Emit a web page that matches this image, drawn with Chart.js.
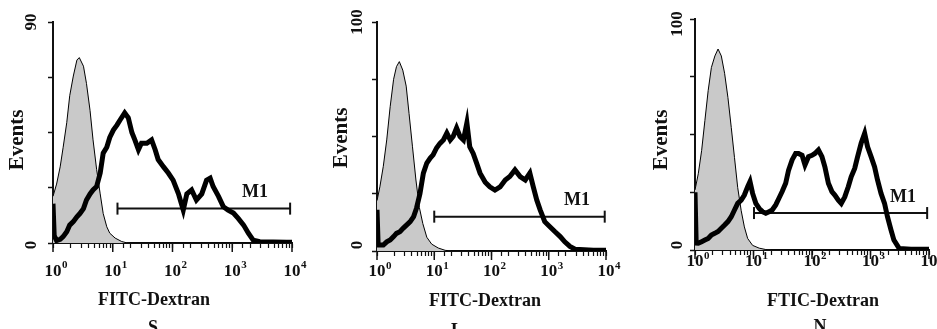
<!DOCTYPE html>
<html>
<head>
<meta charset="utf-8">
<script src="https://cdn.jsdelivr.net/npm/chart.js@4.4.0/dist/chart.umd.min.js"></script>
<style>
body{margin:0;background:#fff;width:937px;height:329px;overflow:hidden;position:relative}
canvas{position:absolute;top:0}
</style>
</head>
<body>
<canvas id="cS" width="320" height="329" style="left:0px"></canvas>
<canvas id="cL" width="315" height="329" style="left:320px"></canvas>
<canvas id="cN" width="302" height="329" style="left:635px"></canvas>
<script>
// x positions are read in decades (log10 of FITC intensity), y = events
const xDecades = [1, 10, 100, 1000, 10000];
const xExponents = ['0', '1', '2', '3', '4'];

// panel S
const sGreyPos = [0,0.06,0.12,0.17,0.23,0.28,0.34,0.40,0.44,0.51,0.56,0.62,0.67,0.73,0.79,0.84,0.90,0.95,1.04,1.15,1.23,1.3,4];
const sGreyVal = [19,24,31,39,49,60,68,74.5,75.5,72,65,54,42,30,20,12,6.6,4,2,0.6,0.1,0,0];
const sBlackPos = [0,0.02,0.06,0.12,0.17,0.23,0.28,0.34,0.40,0.45,0.51,0.56,0.62,0.67,0.73,0.79,0.84,0.90,0.95,1.01,1.07,1.12,1.20,1.26,1.32,1.37,1.43,1.48,1.57,1.65,1.71,1.76,1.85,1.93,2.01,2.10,2.18,2.24,2.32,2.40,2.49,2.57,2.63,2.68,2.77,2.85,2.93,3.02,3.10,3.19,3.27,3.35,3.46,3.91,4];
const sBlackVal = [16,3,1,1.5,2.6,4.6,7.3,8.7,10.7,12,14,17.5,20,21.6,23,28.5,36.6,39,43,46,48,50,53,51,45,42,38,40.6,40.6,42,38,34,31,28.5,25.6,20,13.4,20,21.6,17.5,20,25.6,26.4,23,19,14.8,13.4,12.2,10,7.3,4,1.2,0.5,0.3,0.3];

// panel L
const lGreyPos = [0,0.05,0.11,0.17,0.23,0.29,0.34,0.39,0.45,0.51,0.56,0.62,0.68,0.74,0.80,0.87,0.955,1.07,1.19,1.3,4];
const lGreyVal = [22,28,37,48.5,63,75,80.5,82.7,79,72,60,45.5,31,19,12,6,3,1.3,0.3,0,0];
const lBlackPos = [0,0.02,0.05,0.11,0.17,0.23,0.29,0.34,0.40,0.46,0.52,0.58,0.64,0.69,0.75,0.81,0.87,0.93,0.98,1.04,1.10,1.16,1.22,1.28,1.33,1.39,1.45,1.51,1.57,1.62,1.68,1.74,1.80,1.89,1.97,2.06,2.15,2.24,2.32,2.41,2.50,2.59,2.67,2.73,2.79,2.85,2.93,3.02,3.11,3.20,3.28,3.37,3.46,3.78,4];
const lBlackVal = [18,2.6,2.6,2.6,4,4.8,6.3,7.7,8.4,10,11.4,12.8,15,18.7,25,34,38.4,40.6,42,45,47,48.5,51.5,48.5,50,53.7,50,48.5,56,45.5,42.6,38.4,34,30,28,26.6,28,31,32.5,35.4,32.5,31,34,28,22.3,18,12.8,10.6,8.4,6.3,4,2,0.8,0.3,0.3];

// panel N
const nGreyPos = [0,0.056,0.113,0.169,0.225,0.28,0.34,0.394,0.45,0.506,0.563,0.62,0.675,0.73,0.79,0.844,0.90,0.985,1.097,1.21,1.3,4];
const nGreyVal = [26,33,43,56,69,79,84,87,84,76.5,66,53,40,27,17,10,5,2,0.8,0.2,0,0];
const nBlackPos = [0,0.02,0.056,0.113,0.169,0.225,0.28,0.338,0.394,0.45,0.506,0.563,0.62,0.675,0.73,0.79,0.844,0.90,0.94,0.985,1.04,1.097,1.153,1.21,1.266,1.32,1.38,1.435,1.49,1.55,1.60,1.66,1.72,1.77,1.83,1.88,1.94,2.0,2.05,2.11,2.17,2.22,2.28,2.34,2.39,2.45,2.50,2.56,2.62,2.67,2.73,2.78,2.84,2.90,2.95,3.01,3.07,3.12,3.18,3.24,3.29,3.35,3.40,3.49,3.69,4];
const nBlackVal = [25,3,2.9,3.6,4.3,5,6.5,7.2,8,9.4,10.8,12.3,14.4,17.3,20.2,21.6,23.8,27.4,29.6,24.5,20.2,18,16.6,15.9,16.6,17.3,19.5,22.4,25.3,28.9,34.6,39,41.8,41.8,41,36.8,40.4,41,41.8,43.3,40.4,36,28.9,25.3,23.8,21.6,20.2,23,27.4,31.7,35.3,40.4,46.2,50.5,44.7,40.4,36,30.3,24.5,20.2,14.4,8.7,4.3,0.7,0.3,0.3];

// M1 marker per panel: start, end, level, label position
const m1Start = [12, 10, 10.2];
const m1End = [9300, 9500, 9300];
const m1Level = [14, 15, 16];
const m1LabelAt = [2400, 3100, 3600];

const yMax = [90, 100, 100];
const xTitles = ['FITC-Dextran', 'FITC-Dextran', 'FTIC-Dextran'];
const panelNames = ['S', 'L', 'N'];

const SERIF = '"Liberation Serif", "Times New Roman", serif';

function toPoints(pos, val) {
    return pos.map((d, i) => ({x: Math.pow(10, d), y: val[i]}));
}

function rotText(ctx, txt, x, y) {
    ctx.save();
    ctx.translate(x, y);
    ctx.rotate(-Math.PI / 2);
    ctx.textAlign = 'center';
    ctx.textBaseline = 'middle';
    ctx.fillText(txt, 0, 0);
    ctx.restore();
}

const panelText = {
    id: 'panelText',
    afterDraw(chart) {
        const p = chart.options.plugins.panelText;
        const ctx = chart.ctx, xs = chart.scales.x, ys = chart.scales.y;
        ctx.save();
        ctx.fillStyle = '#111';
        ctx.strokeStyle = '#111';
        // decade ticks are longer
        ctx.lineWidth = 1.5;
        xDecades.forEach(v => {
            const px = xs.getPixelForValue(v);
            ctx.beginPath();
            ctx.moveTo(px, ys.bottom);
            ctx.lineTo(px, ys.bottom + 9);
            ctx.stroke();
        });
        // x tick labels 10^n
        xDecades.forEach((v, i) => {
            const px = xs.getPixelForValue(v);
            ctx.font = 'bold 17px ' + SERIF;
            ctx.textAlign = 'center';
            ctx.textBaseline = 'middle';
            ctx.fillText('10', px, p.tickY);
            const w = ctx.measureText('10').width;
            ctx.font = 'bold 11px ' + SERIF;
            ctx.textAlign = 'left';
            ctx.fillText(xExponents[i], px + w / 2 + 0.5, p.tickY - 6);
        });
        // y tick labels
        ctx.font = 'bold 17px ' + SERIF;
        rotText(ctx, '0', p.yLabX, ys.getPixelForValue(0) + p.zeroDy);
        rotText(ctx, String(p.max), p.yLabX, ys.getPixelForValue(p.max) + p.topDy);
        // axis titles
        ctx.font = 'bold 21px ' + SERIF;
        rotText(ctx, 'Events', p.evX, p.evY);
        ctx.font = 'bold 18px ' + SERIF;
        ctx.textAlign = 'center';
        ctx.textBaseline = 'middle';
        ctx.fillText(p.title, p.titleX, p.titleY);
        ctx.textBaseline = 'top';
        ctx.fillText(p.name, p.nameX, p.nameY);
        // M1 label
        ctx.font = 'bold 18px ' + SERIF;
        ctx.textBaseline = 'bottom';
        ctx.fillText('M1', xs.getPixelForValue(p.m1At), ys.getPixelForValue(p.m1Lv) - 7);
        ctx.restore();
    }
};

function makePanel(id, i, greyPos, greyVal, blackPos, blackVal, pad, txt) {
    const config = {
        type: 'line',
        data: {
            datasets: [
                {
                    data: toPoints(blackPos, blackVal),
                    borderColor: '#000',
                    borderWidth: 5,
                    borderJoinStyle: 'miter',
                    pointRadius: 0,
                    fill: false
                },
                {
                    data: [{x: m1Start[i], y: m1Level[i]}, {x: m1End[i], y: m1Level[i]}],
                    borderColor: '#111',
                    borderWidth: 2,
                    pointStyle: 'line',
                    pointRadius: 6,
                    pointRotation: 90,
                    pointBorderWidth: 2,
                    pointBorderColor: '#111',
                    clip: false
                },
                {
                    data: toPoints(greyPos, greyVal),
                    borderColor: '#000',
                    borderWidth: 1,
                    backgroundColor: '#c9c9c9',
                    pointRadius: 0,
                    fill: 'origin'
                }
            ]
        },
        options: {
            responsive: false,
            animation: false,
            events: [],
            layout: {padding: pad},
            scales: {
                x: {
                    type: 'logarithmic',
                    min: 1,
                    max: 10000,
                    border: {color: '#111', width: 2},
                    grid: {drawOnChartArea: false, tickLength: 5, tickColor: '#111', tickWidth: 1.2},
                    ticks: {display: false}
                },
                y: {
                    min: 0,
                    max: yMax[i],
                    border: {color: '#111', width: 2},
                    grid: {drawOnChartArea: false, tickLength: 5, tickColor: '#111', tickWidth: 1.5},
                    ticks: {display: false, stepSize: yMax[i] / 4}
                }
            },
            plugins: {
                legend: {display: false},
                tooltip: {enabled: false},
                panelText: Object.assign({
                    max: yMax[i],
                    title: xTitles[i],
                    name: panelNames[i],
                    m1At: m1LabelAt[i],
                    m1Lv: m1Level[i]
                }, txt)
            }
        },
        plugins: [panelText]
    };
    return new Chart(document.getElementById(id), config);
}

makePanel('cS', 0, sGreyPos, sGreyVal, sBlackPos, sBlackVal,
    {left: 48, right: 28, top: 22, bottom: 81},
    {tickY: 271.5, yLabX: 32, zeroDy: 2, topDy: 0, evX: 18, evY: 140, titleX: 154, titleY: 300, nameX: 153, nameY: 319});
makePanel('cL', 1, lGreyPos, lGreyVal, lBlackPos, lBlackVal,
    {left: 52, right: 29, top: 22, bottom: 73},
    {tickY: 272, yLabX: 38, zeroDy: -6, topDy: 0, evX: 22, evY: 138, titleX: 165, titleY: 301, nameX: 137, nameY: 322});
makePanel('cN', 2, nGreyPos, nGreyVal, nBlackPos, nBlackVal,
    {left: 55, right: 5, top: 19, bottom: 74},
    {tickY: 262, yLabX: 43, zeroDy: -5, topDy: 5, evX: 27, evY: 140, titleX: 188, titleY: 301, nameX: 185, nameY: 318});
</script>
</body>
</html>
